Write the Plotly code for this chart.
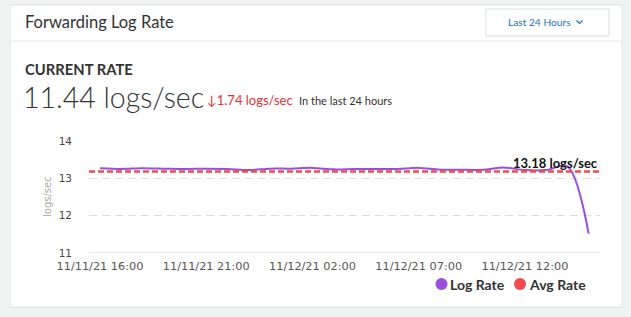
import pandas as pd
import plotly.graph_objects as go

# ---- data ----
times = pd.date_range("2021-11-11 16:00", periods=24, freq="h")
log_rate = [13.27, 13.25, 13.27, 13.26, 13.25, 13.26, 13.25, 13.22, 13.26, 13.26,
            13.28, 13.24, 13.25, 13.25, 13.25, 13.28, 13.23, 13.23, 13.23, 13.29,
            13.22, 13.22, 13.32, 11.52]
avg_rate = 13.18
current_rate = "11.44 logs/sec"
change_text = "↓1.74 logs/sec"
x_ticks = pd.date_range("2021-11-11 16:00", periods=5, freq="5h")
y_ticks = [11, 12, 13, 14]
legend_names = ["Log Rate", "Avg Rate"]
colors = ["#9b4ddb", "#ef4b50"]

W, H = 631, 317
L, R, T, B = 89, 600, 141, 253


def px(x):
    return (x - L) / (R - L)


def py(y):
    return (B - y) / (B - T)


fig = go.Figure()
fig.add_trace(go.Scatter(x=times, y=log_rate, mode="lines", name=legend_names[0],
                         line=dict(color=colors[0], width=2, shape="spline", smoothing=0.9),
                         showlegend=False, hoverinfo="skip"))

shapes = [
    dict(type="rect", xref="paper", yref="paper", x0=px(10), x1=px(622), y0=py(5), y1=py(307),
         fillcolor="white", line=dict(color="#e2e4e4", width=1), layer="below"),
    dict(type="line", xref="paper", yref="paper", x0=px(10), x1=px(622), y0=py(41), y1=py(41),
         line=dict(color="#e6e6e6", width=1), layer="below"),
    dict(type="rect", xref="paper", yref="paper", x0=px(486), x1=px(609), y0=py(9), y1=py(36),
         fillcolor="white", line=dict(color="#dcdfe4", width=1), layer="below"),
    dict(type="path", xref="paper", yref="paper",
         path=f"M {px(576.5)},{py(20.5)} L {px(579.5)},{py(23.5)} L {px(582.5)},{py(20.5)}",
         line=dict(color="#1a73c8", width=1.2)),
    # average line
    dict(type="line", xref="paper", yref="y", x0=0, x1=1, y0=avg_rate, y1=avg_rate,
         line=dict(color=colors[1], width=2.5, dash="6px,3px"), layer="above"),
    # baseline
    dict(type="line", xref="paper", yref="y", x0=0, x1=1, y0=y_ticks[0], y1=y_ticks[0],
         line=dict(color="#c5cde0", width=1.2), layer="above"),
]
# legend dots
for cx, c in zip([441.5, 520], colors):
    shapes.append(dict(type="circle", xref="paper", yref="paper",
                       x0=px(cx - 6), x1=px(cx + 6), y0=py(278), y1=py(290),
                       fillcolor=c, line=dict(width=0)))

ann = [
    dict(text="Forwarding Log Rate", x=px(23), y=py(22), font=dict(family="Lato", size=16.5, color="#333")),
    dict(text="<b>CURRENT RATE</b>", x=px(23), y=py(69), font=dict(family="Lato", size=14.8, color="#333")),
    dict(text=current_rate, x=px(21), y=py(97), font=dict(family="Lato", size=28.5, color="#333", weight=300)),
    dict(text=change_text, x=px(205), y=py(100), font=dict(family="Lato", size=13, color="#e0343a")),
    dict(text="In the last 24 hours", x=px(297), y=py(100), font=dict(family="Lato", size=11, color="#333")),
    dict(text="Last 24 Hours", x=px(506), y=py(22), font=dict(family="Lato", size=10.2, color="#1a73c8")),
    dict(text="logs/sec", x=px(47), y=py(197), textangle=-90, xanchor="center",
         font=dict(family="DejaVu Sans", size=10, color="#aaaaaa")),
    dict(text=f"<b>{avg_rate:.2f} logs/sec</b>", x=px(600), y=py(162.5), xanchor="right",
         font=dict(family="Lato", size=13, color="#111")),
    dict(text=f"<b>{legend_names[0]}</b>", x=px(448), y=py(284.5), font=dict(family="Lato", size=14, color="#333")),
    dict(text=f"<b>{legend_names[1]}</b>", x=px(526.5), y=py(284.5), font=dict(family="Lato", size=14, color="#333")),
]
annotations = []
for a in ann:
    d = dict(xref="paper", yref="paper", showarrow=False, xanchor="left", yanchor="middle")
    d.update(a)
    annotations.append(d)

fig.update_layout(
    width=W, height=H,
    margin=dict(l=L, r=W - R, t=T, b=H - B, pad=0),
    paper_bgcolor="#f1f2f2", plot_bgcolor="white",
    shapes=shapes, annotations=annotations,
    showlegend=False,
    xaxis=dict(range=[pd.Timestamp("2021-11-11 15:29"), pd.Timestamp("2021-11-12 15:32")],
               tickvals=x_ticks, tickformat="%m/%d/%y %H:%M",
               showgrid=False, zeroline=False, showline=False, ticks="",
               tickfont=dict(family="DejaVu Sans", size=11.3, color="#555"),
               ticklabelstandoff=5),
    yaxis=dict(range=[11, 14], tickvals=y_ticks, showgrid=True, gridcolor="#dddddd",
               griddash="8px,5px", gridwidth=1, zeroline=False, showline=False, ticks="",
               tickfont=dict(family="DejaVu Sans", size=10.5, color="#444"),
               ticklabelstandoff=16),
)

fig.write_html("out.html")
